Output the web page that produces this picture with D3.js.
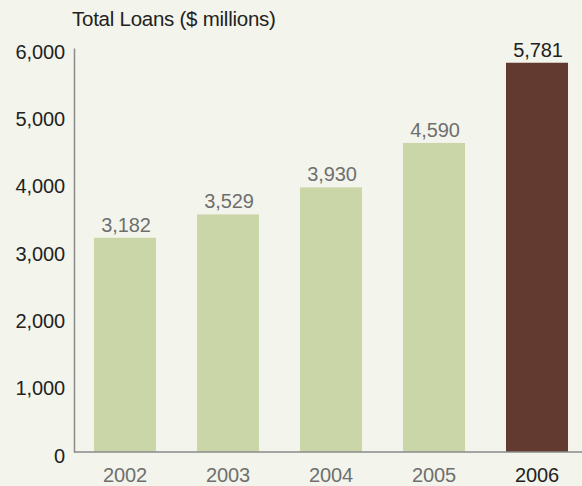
<!DOCTYPE html>
<html>
<head>
<meta charset="utf-8">
<script src="https://cdn.jsdelivr.net/npm/d3@7"></script>
<style>
  body { margin: 0; background: #f3f5ec; }
  svg { display: block; }
  text { font-family: "Liberation Sans", Arial, Helvetica, sans-serif; }
</style>
</head>
<body>
<div id="container"></div>
<script>
let w = 582;
let h = 486;

// data
let years = ["2002", "2003", "2004", "2005", "2006"];
let loans = [3182, 3529, 3930, 4590, 5781];
let yTicks = [0, 1000, 2000, 3000, 4000, 5000, 6000];
let title = "Total Loans ($ millions)";

let data = years.map((y, i) => ({ year: y, value: loans[i] }));

let viz = d3.select("#container")
  .append("svg")
  .attr("width", w)
  .attr("height", h)
  .style("background", "#f3f5ec");

// scales
let xScale = d3.scaleBand()
  .domain(years)
  .range([74, 588])
  .paddingInner(0.398)
  .paddingOuter(0.194);

let yScale = d3.scaleLinear()
  .domain([0, 6000])
  .range([452, 48]);

// title
viz.append("text")
  .attr("x", 72)
  .attr("y", 26)
  .attr("font-size", "20.5px")
  .attr("letter-spacing", "-0.25px")
  .attr("fill", "#222")
  .text(title);

// bars
viz.selectAll(".bar")
  .data(data)
  .enter()
  .append("rect")
  .attr("class", "bar")
  .attr("x", d => xScale(d.year))
  .attr("width", xScale.bandwidth())
  .attr("y", d => yScale(d.value))
  .attr("height", d => yScale(0) - yScale(d.value))
  .attr("fill", (d, i) => i == data.length - 1 ? "#633a2f" : "#cbd6a8");

// value labels
viz.selectAll(".vlabel")
  .data(data)
  .enter()
  .append("text")
  .attr("class", "vlabel")
  .attr("x", d => xScale(d.year) + xScale.bandwidth() / 2 + 1)
  .attr("y", d => yScale(d.value) - 6)
  .attr("text-anchor", "middle")
  .attr("font-size", "20px")
  .attr("letter-spacing", "-0.1px")
  .attr("fill", (d, i) => i == data.length - 1 ? "#222" : "#6f6f6f")
  .text(d => d3.format(",")(d.value));

// y axis
let yAxis = d3.axisLeft(yScale)
  .tickValues(yTicks)
  .tickFormat(d3.format(","))
  .tickSize(0)
  .tickSizeOuter(0)
  .tickPadding(9);

let yAxisGroup = viz.append("g")
  .attr("class", "yaxis")
  .attr("transform", "translate(74,0)")
  .call(yAxis);

yAxisGroup.select(".domain")
  .attr("stroke", "#8a8a8a")
  .attr("stroke-width", 1.5);
yAxisGroup.selectAll("text")
  .attr("font-size", "20px")
  .attr("letter-spacing", "-0.1px")
  .attr("font-family", "Liberation Sans, Arial, sans-serif")
  .attr("fill", "#222")
  .attr("dy", "0.5em");

// x axis
let xAxis = d3.axisBottom(xScale)
  .tickSize(0)
  .tickSizeOuter(0)
  .tickPadding(16);

let xAxisGroup = viz.append("g")
  .attr("class", "xaxis")
  .attr("transform", "translate(0,452)")
  .call(xAxis);

xAxisGroup.select(".domain").remove();
xAxisGroup.selectAll("text")
  .attr("font-size", "20px")
  .attr("letter-spacing", "-0.1px")
  .attr("font-family", "Liberation Sans, Arial, sans-serif")
  .attr("fill", (d, i) => i == years.length - 1 ? "#222" : "#6f6f6f");

// baseline
viz.append("line")
  .attr("x1", 74)
  .attr("x2", w)
  .attr("y1", yScale(0))
  .attr("y2", yScale(0))
  .attr("stroke", "#8a8a8a")
  .attr("stroke-width", 1.5);
</script>
</body>
</html>
